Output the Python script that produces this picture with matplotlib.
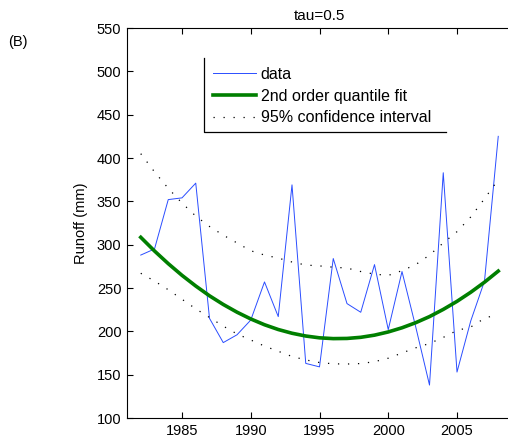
import matplotlib
matplotlib.use('Agg')
import matplotlib.pyplot as plt
from matplotlib.lines import Line2D

# annual runoff and quantile regression (tau = 0.5)
years = list(range(1982, 2009))
runoff = [288, 295, 352, 354, 371, 215, 187, 196, 213, 257, 217, 369, 163, 159,
          284, 232, 222, 277, 202, 269, 205, 138, 383, 153, 212, 258, 425]
fit = [308.5, 292.7, 278.1, 264.6, 252.3, 241.0, 231.0, 222.1, 214.3, 207.6,
       202.1, 197.8, 194.6, 192.5, 191.6, 191.8, 193.1, 195.6, 199.3, 204.1,
       210.0, 217.0, 225.3, 234.6, 245.1, 256.7, 269.5]
ci_upper = [405, 384, 365, 348, 333, 321, 311, 302, 293, 288, 284.5, 280, 276.5,
            275.5, 274, 273, 269, 266, 264.5, 270, 277, 288, 302, 315, 332, 353, 375]
ci_lower = [267, 258, 248, 237, 226, 216, 206, 197, 190, 183, 177, 171, 167, 164,
            162.5, 162.3, 162.8, 165, 169, 175, 181, 186, 193, 201, 205, 215, 220]

plt.rcParams['font.family'] = ['Liberation Sans', 'DejaVu Sans']
plt.rcParams['font.size'] = 10.5

fig = plt.figure(figsize=(5.08, 4.40), dpi=100)
ax = fig.add_axes([127 / 508, 22 / 440, 385 / 508, 390 / 440])

ax.plot(years, runoff, color='#2a4dff', lw=0.7, label='data')
ax.plot(years, fit, color='#007f00', lw=2.6, label='2nd order quantile fit')
dots = dict(color='black', lw=0.9, linestyle=(0, (1, 7)))
ax.plot(years, ci_upper, label='95% confidence interval', **dots)
ax.plot(years, ci_lower, **dots)

ax.set_xlim(1981, 2009)
ax.set_ylim(100, 550)
ax.set_xticks(range(1985, 2006, 5))
ax.set_yticks(range(100, 551, 50))
ax.tick_params(direction='in', length=4, width=0.8, top=True, right=False, pad=4)
for s in ax.spines.values():
    s.set_linewidth(0.8)

ax.set_ylabel('Runoff (mm)', labelpad=6)
ax.set_title('tau=0.5', fontsize=11, pad=6)
fig.text(0.016, 0.895, '(B)', fontsize=10.5)

leg = ax.legend(loc='upper left', bbox_to_anchor=(0.2, 0.923), frameon=False,
                handlelength=2.7, handletextpad=0.3, labelspacing=0.42,
                borderaxespad=0, borderpad=0.55, fontsize=11.5)
# legend box shows only its left and bottom edges
bx0, bx1, by0, by1 = 0.2, 0.828, 0.734, 0.923
ax.add_line(Line2D([bx0, bx0, bx1], [by1, by0, by0], transform=ax.transAxes,
                   color='black', lw=0.9))

fig.savefig('out.png', dpi=100)
